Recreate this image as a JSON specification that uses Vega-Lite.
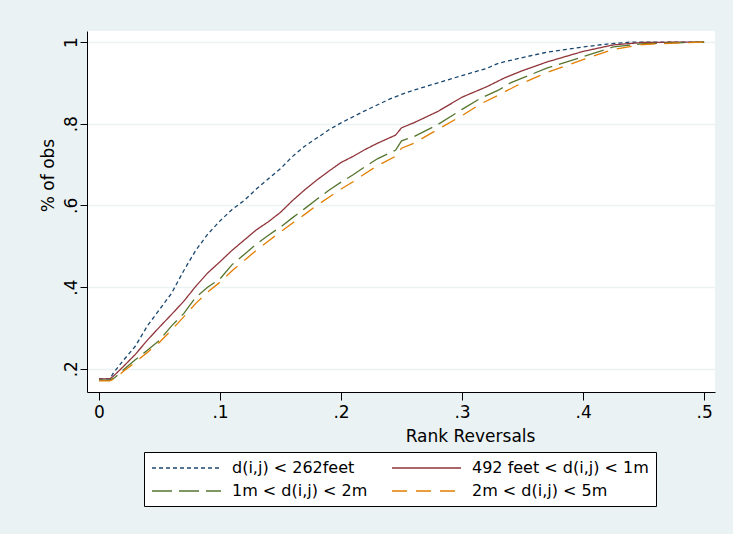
{
  "$schema": "https://vega.github.io/schema/vega-lite/v6.json",
  "width": 628,
  "height": 361,
  "autosize": {"type": "none"},
  "padding": {"left": 87, "top": 31, "right": 18, "bottom": 142},
  "background": "#EAF2F3",
  "config": {
    "view": {"fill": "white", "stroke": null},
    "font": "DejaVu Sans",
    "axis": {"labelFont": "DejaVu Sans", "titleFont": "DejaVu Sans", "labelColor": "black", "titleColor": "black", "domainColor": "black", "tickColor": "black", "titleFontWeight": "normal"},
    "legend": {"labelFont": "DejaVu Sans"}
  },
  "data": {"values": [
    {"s": "d(i,j) < 262feet", "x": 0, "y": 0.175},
    {"s": "d(i,j) < 262feet", "x": 0.009, "y": 0.175},
    {"s": "d(i,j) < 262feet", "x": 0.012, "y": 0.19},
    {"s": "d(i,j) < 262feet", "x": 0.02, "y": 0.22},
    {"s": "d(i,j) < 262feet", "x": 0.03, "y": 0.255},
    {"s": "d(i,j) < 262feet", "x": 0.04, "y": 0.305},
    {"s": "d(i,j) < 262feet", "x": 0.05, "y": 0.345},
    {"s": "d(i,j) < 262feet", "x": 0.06, "y": 0.385},
    {"s": "d(i,j) < 262feet", "x": 0.07, "y": 0.44},
    {"s": "d(i,j) < 262feet", "x": 0.08, "y": 0.49},
    {"s": "d(i,j) < 262feet", "x": 0.09, "y": 0.53},
    {"s": "d(i,j) < 262feet", "x": 0.1, "y": 0.562},
    {"s": "d(i,j) < 262feet", "x": 0.11, "y": 0.59},
    {"s": "d(i,j) < 262feet", "x": 0.12, "y": 0.612},
    {"s": "d(i,j) < 262feet", "x": 0.13, "y": 0.64},
    {"s": "d(i,j) < 262feet", "x": 0.14, "y": 0.665},
    {"s": "d(i,j) < 262feet", "x": 0.15, "y": 0.69},
    {"s": "d(i,j) < 262feet", "x": 0.16, "y": 0.72},
    {"s": "d(i,j) < 262feet", "x": 0.17, "y": 0.745},
    {"s": "d(i,j) < 262feet", "x": 0.18, "y": 0.765},
    {"s": "d(i,j) < 262feet", "x": 0.19, "y": 0.785},
    {"s": "d(i,j) < 262feet", "x": 0.2, "y": 0.802},
    {"s": "d(i,j) < 262feet", "x": 0.22, "y": 0.832},
    {"s": "d(i,j) < 262feet", "x": 0.24, "y": 0.86},
    {"s": "d(i,j) < 262feet", "x": 0.25, "y": 0.872},
    {"s": "d(i,j) < 262feet", "x": 0.26, "y": 0.882},
    {"s": "d(i,j) < 262feet", "x": 0.28, "y": 0.9},
    {"s": "d(i,j) < 262feet", "x": 0.3, "y": 0.918},
    {"s": "d(i,j) < 262feet", "x": 0.32, "y": 0.935},
    {"s": "d(i,j) < 262feet", "x": 0.33, "y": 0.948},
    {"s": "d(i,j) < 262feet", "x": 0.35, "y": 0.962},
    {"s": "d(i,j) < 262feet", "x": 0.37, "y": 0.975},
    {"s": "d(i,j) < 262feet", "x": 0.4, "y": 0.988},
    {"s": "d(i,j) < 262feet", "x": 0.42, "y": 0.995},
    {"s": "d(i,j) < 262feet", "x": 0.44, "y": 1.0},
    {"s": "d(i,j) < 262feet", "x": 0.5, "y": 1.0},

    {"s": "492 feet < d(i,j) < 1m", "x": 0, "y": 0.175},
    {"s": "492 feet < d(i,j) < 1m", "x": 0.009, "y": 0.175},
    {"s": "492 feet < d(i,j) < 1m", "x": 0.012, "y": 0.182},
    {"s": "492 feet < d(i,j) < 1m", "x": 0.02, "y": 0.205},
    {"s": "492 feet < d(i,j) < 1m", "x": 0.03, "y": 0.235},
    {"s": "492 feet < d(i,j) < 1m", "x": 0.04, "y": 0.27},
    {"s": "492 feet < d(i,j) < 1m", "x": 0.05, "y": 0.302},
    {"s": "492 feet < d(i,j) < 1m", "x": 0.06, "y": 0.333},
    {"s": "492 feet < d(i,j) < 1m", "x": 0.07, "y": 0.365},
    {"s": "492 feet < d(i,j) < 1m", "x": 0.08, "y": 0.402},
    {"s": "492 feet < d(i,j) < 1m", "x": 0.09, "y": 0.435},
    {"s": "492 feet < d(i,j) < 1m", "x": 0.1, "y": 0.462},
    {"s": "492 feet < d(i,j) < 1m", "x": 0.11, "y": 0.49},
    {"s": "492 feet < d(i,j) < 1m", "x": 0.12, "y": 0.515},
    {"s": "492 feet < d(i,j) < 1m", "x": 0.13, "y": 0.54},
    {"s": "492 feet < d(i,j) < 1m", "x": 0.14, "y": 0.56},
    {"s": "492 feet < d(i,j) < 1m", "x": 0.15, "y": 0.583},
    {"s": "492 feet < d(i,j) < 1m", "x": 0.16, "y": 0.612},
    {"s": "492 feet < d(i,j) < 1m", "x": 0.17, "y": 0.638},
    {"s": "492 feet < d(i,j) < 1m", "x": 0.18, "y": 0.662},
    {"s": "492 feet < d(i,j) < 1m", "x": 0.19, "y": 0.684},
    {"s": "492 feet < d(i,j) < 1m", "x": 0.2, "y": 0.705},
    {"s": "492 feet < d(i,j) < 1m", "x": 0.21, "y": 0.72},
    {"s": "492 feet < d(i,j) < 1m", "x": 0.22, "y": 0.737},
    {"s": "492 feet < d(i,j) < 1m", "x": 0.23, "y": 0.752},
    {"s": "492 feet < d(i,j) < 1m", "x": 0.245, "y": 0.772},
    {"s": "492 feet < d(i,j) < 1m", "x": 0.25, "y": 0.79},
    {"s": "492 feet < d(i,j) < 1m", "x": 0.26, "y": 0.802},
    {"s": "492 feet < d(i,j) < 1m", "x": 0.28, "y": 0.83},
    {"s": "492 feet < d(i,j) < 1m", "x": 0.3, "y": 0.865},
    {"s": "492 feet < d(i,j) < 1m", "x": 0.32, "y": 0.89},
    {"s": "492 feet < d(i,j) < 1m", "x": 0.335, "y": 0.912},
    {"s": "492 feet < d(i,j) < 1m", "x": 0.35, "y": 0.93},
    {"s": "492 feet < d(i,j) < 1m", "x": 0.37, "y": 0.951},
    {"s": "492 feet < d(i,j) < 1m", "x": 0.4, "y": 0.977},
    {"s": "492 feet < d(i,j) < 1m", "x": 0.425, "y": 0.993},
    {"s": "492 feet < d(i,j) < 1m", "x": 0.45, "y": 0.999},
    {"s": "492 feet < d(i,j) < 1m", "x": 0.5, "y": 1.0},

    {"s": "1m < d(i,j) < 2m", "x": 0, "y": 0.172},
    {"s": "1m < d(i,j) < 2m", "x": 0.009, "y": 0.172},
    {"s": "1m < d(i,j) < 2m", "x": 0.013, "y": 0.178},
    {"s": "1m < d(i,j) < 2m", "x": 0.02, "y": 0.197},
    {"s": "1m < d(i,j) < 2m", "x": 0.03, "y": 0.222},
    {"s": "1m < d(i,j) < 2m", "x": 0.04, "y": 0.245},
    {"s": "1m < d(i,j) < 2m", "x": 0.05, "y": 0.27},
    {"s": "1m < d(i,j) < 2m", "x": 0.06, "y": 0.305},
    {"s": "1m < d(i,j) < 2m", "x": 0.07, "y": 0.335},
    {"s": "1m < d(i,j) < 2m", "x": 0.08, "y": 0.375},
    {"s": "1m < d(i,j) < 2m", "x": 0.09, "y": 0.4},
    {"s": "1m < d(i,j) < 2m", "x": 0.1, "y": 0.42},
    {"s": "1m < d(i,j) < 2m", "x": 0.11, "y": 0.455},
    {"s": "1m < d(i,j) < 2m", "x": 0.12, "y": 0.48},
    {"s": "1m < d(i,j) < 2m", "x": 0.13, "y": 0.505},
    {"s": "1m < d(i,j) < 2m", "x": 0.14, "y": 0.527},
    {"s": "1m < d(i,j) < 2m", "x": 0.15, "y": 0.547},
    {"s": "1m < d(i,j) < 2m", "x": 0.16, "y": 0.57},
    {"s": "1m < d(i,j) < 2m", "x": 0.17, "y": 0.592},
    {"s": "1m < d(i,j) < 2m", "x": 0.18, "y": 0.615},
    {"s": "1m < d(i,j) < 2m", "x": 0.19, "y": 0.637},
    {"s": "1m < d(i,j) < 2m", "x": 0.2, "y": 0.657},
    {"s": "1m < d(i,j) < 2m", "x": 0.21, "y": 0.675},
    {"s": "1m < d(i,j) < 2m", "x": 0.22, "y": 0.695},
    {"s": "1m < d(i,j) < 2m", "x": 0.23, "y": 0.714},
    {"s": "1m < d(i,j) < 2m", "x": 0.245, "y": 0.735},
    {"s": "1m < d(i,j) < 2m", "x": 0.25, "y": 0.758},
    {"s": "1m < d(i,j) < 2m", "x": 0.26, "y": 0.768},
    {"s": "1m < d(i,j) < 2m", "x": 0.28, "y": 0.798},
    {"s": "1m < d(i,j) < 2m", "x": 0.3, "y": 0.835},
    {"s": "1m < d(i,j) < 2m", "x": 0.315, "y": 0.862},
    {"s": "1m < d(i,j) < 2m", "x": 0.33, "y": 0.882},
    {"s": "1m < d(i,j) < 2m", "x": 0.34, "y": 0.9},
    {"s": "1m < d(i,j) < 2m", "x": 0.37, "y": 0.936},
    {"s": "1m < d(i,j) < 2m", "x": 0.4, "y": 0.964},
    {"s": "1m < d(i,j) < 2m", "x": 0.425, "y": 0.988},
    {"s": "1m < d(i,j) < 2m", "x": 0.45, "y": 0.996},
    {"s": "1m < d(i,j) < 2m", "x": 0.5, "y": 1.0},

    {"s": "2m < d(i,j) < 5m", "x": 0, "y": 0.17},
    {"s": "2m < d(i,j) < 5m", "x": 0.009, "y": 0.17},
    {"s": "2m < d(i,j) < 5m", "x": 0.013, "y": 0.176},
    {"s": "2m < d(i,j) < 5m", "x": 0.02, "y": 0.193},
    {"s": "2m < d(i,j) < 5m", "x": 0.03, "y": 0.216},
    {"s": "2m < d(i,j) < 5m", "x": 0.04, "y": 0.24},
    {"s": "2m < d(i,j) < 5m", "x": 0.05, "y": 0.265},
    {"s": "2m < d(i,j) < 5m", "x": 0.06, "y": 0.295},
    {"s": "2m < d(i,j) < 5m", "x": 0.07, "y": 0.327},
    {"s": "2m < d(i,j) < 5m", "x": 0.08, "y": 0.36},
    {"s": "2m < d(i,j) < 5m", "x": 0.09, "y": 0.388},
    {"s": "2m < d(i,j) < 5m", "x": 0.1, "y": 0.412},
    {"s": "2m < d(i,j) < 5m", "x": 0.11, "y": 0.44},
    {"s": "2m < d(i,j) < 5m", "x": 0.12, "y": 0.465},
    {"s": "2m < d(i,j) < 5m", "x": 0.13, "y": 0.49},
    {"s": "2m < d(i,j) < 5m", "x": 0.14, "y": 0.513},
    {"s": "2m < d(i,j) < 5m", "x": 0.15, "y": 0.535},
    {"s": "2m < d(i,j) < 5m", "x": 0.16, "y": 0.557},
    {"s": "2m < d(i,j) < 5m", "x": 0.17, "y": 0.578},
    {"s": "2m < d(i,j) < 5m", "x": 0.18, "y": 0.6},
    {"s": "2m < d(i,j) < 5m", "x": 0.19, "y": 0.62},
    {"s": "2m < d(i,j) < 5m", "x": 0.2, "y": 0.64},
    {"s": "2m < d(i,j) < 5m", "x": 0.21, "y": 0.658},
    {"s": "2m < d(i,j) < 5m", "x": 0.22, "y": 0.678},
    {"s": "2m < d(i,j) < 5m", "x": 0.23, "y": 0.697},
    {"s": "2m < d(i,j) < 5m", "x": 0.245, "y": 0.72},
    {"s": "2m < d(i,j) < 5m", "x": 0.25, "y": 0.74},
    {"s": "2m < d(i,j) < 5m", "x": 0.26, "y": 0.752},
    {"s": "2m < d(i,j) < 5m", "x": 0.28, "y": 0.786},
    {"s": "2m < d(i,j) < 5m", "x": 0.3, "y": 0.82},
    {"s": "2m < d(i,j) < 5m", "x": 0.315, "y": 0.848},
    {"s": "2m < d(i,j) < 5m", "x": 0.33, "y": 0.87},
    {"s": "2m < d(i,j) < 5m", "x": 0.345, "y": 0.893},
    {"s": "2m < d(i,j) < 5m", "x": 0.37, "y": 0.925},
    {"s": "2m < d(i,j) < 5m", "x": 0.4, "y": 0.957},
    {"s": "2m < d(i,j) < 5m", "x": 0.425, "y": 0.982},
    {"s": "2m < d(i,j) < 5m", "x": 0.45, "y": 0.994},
    {"s": "2m < d(i,j) < 5m", "x": 0.48, "y": 0.998},
    {"s": "2m < d(i,j) < 5m", "x": 0.5, "y": 1.0}
  ]},
  "mark": {"type": "line", "strokeWidth": 1.3},
  "encoding": {
    "x": {
      "field": "x", "type": "quantitative",
      "scale": {"domain": [-0.0099, 0.509], "nice": false, "zero": false},
      "axis": {
        "values": [0, 0.1, 0.2, 0.3, 0.4, 0.5],
        "labelExpr": "replace(format(datum.value,'~g'),'0.','.')",
        "grid": false, "tickSize": 8, "labelPadding": 4, "labelFontSize": 17,
        "title": "Rank Reversals", "titleFontSize": 17,
        "titleX": 383, "titleY": 44, "titleBaseline": "middle", "titleAlign": "center",
        "domainWidth": 1, "tickWidth": 1
      }
    },
    "y": {
      "field": "y", "type": "quantitative",
      "scale": {"domain": [0.143, 1.027], "nice": false, "zero": false},
      "axis": {
        "values": [0.2, 0.4, 0.6, 0.8, 1],
        "labelExpr": "replace(format(datum.value,'~g'),'0.','.')",
        "labelAngle": -90, "labelAlign": "center", "labelBaseline": "bottom",
        "grid": true, "gridColor": "#EAF2F3", "gridWidth": 1.5,
        "tickSize": 7, "labelPadding": 0, "labelFontSize": 17,
        "title": "% of obs", "titleFontSize": 17,
        "titleX": -39, "titleY": 144, "titleBaseline": "middle", "titleAlign": "center", "titleAngle": -90,
        "domainWidth": 1, "tickWidth": 1
      }
    },
    "color": {
      "field": "s", "type": "nominal",
      "scale": {
        "domain": ["d(i,j) < 262feet", "492 feet < d(i,j) < 1m", "1m < d(i,j) < 2m", "2m < d(i,j) < 5m"],
        "range": ["#1a476f", "#90353b", "#55752f", "#e37e00"]
      },
      "legend": {
        "orient": "none", "legendX": 57, "legendY": 421,
        "title": null, "columns": 2, "direction": "horizontal",
        "strokeColor": "black", "fillColor": "white", "padding": 7,
        "symbolType": "M-1,0H7.625", "symbolSize": 256, "symbolStrokeWidth": 1.5,
        "labelFontSize": 16, "labelColor": "black", "labelOffset": 63,
        "columnPadding": 21, "rowPadding": 6, "labelLimit": 300
      }
    },
    "strokeDash": {
      "field": "s", "type": "nominal",
      "scale": {
        "domain": ["d(i,j) < 262feet", "492 feet < d(i,j) < 1m", "1m < d(i,j) < 2m", "2m < d(i,j) < 5m"],
        "range": [[4, 3], [1, 0], [20, 7], [15, 9]]
      },
      "legend": null
    }
  }
}
